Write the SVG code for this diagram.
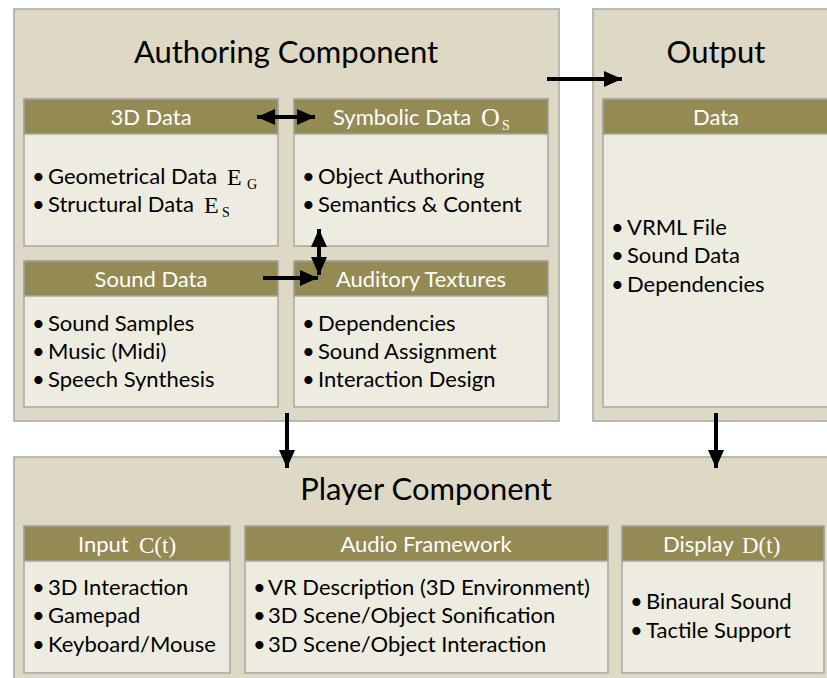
<svg xmlns="http://www.w3.org/2000/svg" width="827" height="678" viewBox="0 0 827 678">
<style>
.outer{fill:#ddd9c4;stroke:#a6a6a6;stroke-width:1.5}
.hdr{fill:#948a54;stroke:#a6a6a6;stroke-width:1.5}
.body{fill:#eeece1;stroke:#a6a6a6;stroke-width:1.5}
.title{font-family:Lato,"Liberation Sans",sans-serif;font-size:31px;fill:#000;text-anchor:middle}
.ht{font-family:Lato,"Liberation Sans",sans-serif;font-size:22px;fill:#fff;text-anchor:middle}
.hl{font-family:Lato,"Liberation Sans",sans-serif;font-size:22px;fill:#fff}
.bt{font-family:Lato,"Liberation Sans",sans-serif;font-size:22px;fill:#000}
.m{font-family:"Liberation Serif",serif}
.conn line{stroke:#000;stroke-width:4}
</style>
<defs>
<marker id="ah" markerUnits="userSpaceOnUse" markerWidth="20" markerHeight="18" refX="18" refY="8" orient="auto-start-reverse">
<path d="M0,0 L18,8 L0,16 z" fill="#000"/>
</marker>
</defs>
<rect width="827" height="678" fill="#fff"/>

<g id="authoring">
<rect class="outer" x="14" y="9" width="545" height="412"/>
<text class="title" x="286" y="63">Authoring Component</text>
</g>
<g id="output">
<rect class="outer" x="593" y="9" width="250" height="412"/>
<text class="title" x="716" y="63">Output</text>
</g>
<g id="player">
<rect class="outer" x="14" y="457" width="830" height="240"/>
<text class="title" x="426" y="500">Player Component</text>
</g>

<g id="data3d">
<rect class="body" x="24" y="99" width="254" height="147"/>
<rect class="hdr" x="24" y="99" width="254" height="35"/>
<text class="ht" x="151" y="125">3D Data</text>
<text class="bt" y="184"><tspan x="32">•</tspan><tspan x="48">Geometrical Data</tspan></text>
<text class="m" x="227" y="185" font-size="24">E</text>
<text class="m" x="247" y="189" font-size="14">G</text>
<text class="bt" y="212"><tspan x="32">•</tspan><tspan x="48">Structural Data</tspan></text>
<text class="m" x="204" y="213" font-size="24">E</text>
<text class="m" x="222" y="217" font-size="14">S</text>
</g>
<g id="symbolic">
<rect class="body" x="294" y="99" width="254" height="147"/>
<rect class="hdr" x="294" y="99" width="254" height="35"/>
<text class="hl" x="333" y="125">Symbolic Data</text>
<text class="m" x="481" y="126" font-size="26" fill="#fff">O</text>
<text class="m" x="502" y="130" font-size="14" fill="#fff">S</text>
<text class="bt" y="184"><tspan x="302">•</tspan><tspan x="318">Object Authoring</tspan></text>
<text class="bt" y="212"><tspan x="302">•</tspan><tspan x="318">Semantics &amp; Content</tspan></text>
</g>
<g id="sound">
<rect class="body" x="24" y="261" width="254" height="146"/>
<rect class="hdr" x="24" y="261" width="254" height="35"/>
<text class="ht" x="151" y="287">Sound Data</text>
<text class="bt" y="331"><tspan x="32">•</tspan><tspan x="48">Sound Samples</tspan></text>
<text class="bt" y="359"><tspan x="32">•</tspan><tspan x="48">Music (Midi)</tspan></text>
<text class="bt" y="387"><tspan x="32">•</tspan><tspan x="48">Speech Synthesis</tspan></text>
</g>
<g id="auditory">
<rect class="body" x="294" y="261" width="254" height="146"/>
<rect class="hdr" x="294" y="261" width="254" height="35"/>
<text class="ht" x="421" y="287">Auditory Textures</text>
<text class="bt" y="331"><tspan x="302">•</tspan><tspan x="318">Dependencies</tspan></text>
<text class="bt" y="359"><tspan x="302">•</tspan><tspan x="318">Sound Assignment</tspan></text>
<text class="bt" y="387"><tspan x="302">•</tspan><tspan x="318">Interaction Design</tspan></text>
</g>
<g id="outdata">
<rect class="body" x="603" y="99" width="240" height="308"/>
<rect class="hdr" x="603" y="99" width="240" height="35"/>
<text class="ht" x="716" y="125">Data</text>
<text class="bt" y="235"><tspan x="611">•</tspan><tspan x="627">VRML File</tspan></text>
<text class="bt" y="263"><tspan x="611">•</tspan><tspan x="627">Sound Data</tspan></text>
<text class="bt" y="292"><tspan x="611">•</tspan><tspan x="627">Dependencies</tspan></text>
</g>
<g id="input">
<rect class="body" x="24" y="526" width="206" height="147"/>
<rect class="hdr" x="24" y="526" width="206" height="35"/>
<text class="hl" x="78" y="552">Input</text>
<text class="m" x="139" y="553" font-size="23" fill="#fff">C(t)</text>
<text class="bt" y="595"><tspan x="32">•</tspan><tspan x="48">3D Interaction</tspan></text>
<text class="bt" y="623"><tspan x="32">•</tspan><tspan x="48">Gamepad</tspan></text>
<text class="bt" y="652"><tspan x="32">•</tspan><tspan x="48">Keyboard/Mouse</tspan></text>
</g>
<g id="audio">
<rect class="body" x="245" y="526" width="363" height="147"/>
<rect class="hdr" x="245" y="526" width="363" height="35"/>
<text class="ht" x="426" y="552">Audio Framework</text>
<text class="bt" y="595"><tspan x="253">•</tspan><tspan x="268">VR Description (3D Environment)</tspan></text>
<text class="bt" y="623"><tspan x="253">•</tspan><tspan x="268">3D Scene/Object Sonification</tspan></text>
<text class="bt" y="652"><tspan x="253">•</tspan><tspan x="268">3D Scene/Object Interaction</tspan></text>
</g>
<g id="display">
<rect class="body" x="622" y="526" width="202" height="147"/>
<rect class="hdr" x="622" y="526" width="202" height="35"/>
<text class="hl" x="663" y="552">Display</text>
<text class="m" x="742" y="553" font-size="23" fill="#fff">D(t)</text>
<text class="bt" y="609"><tspan x="630">•</tspan><tspan x="646">Binaural Sound</tspan></text>
<text class="bt" y="638"><tspan x="630">•</tspan><tspan x="646">Tactile Support</tspan></text>
</g>

<g id="connectors" class="conn">
<line x1="257" y1="117" x2="315" y2="117" marker-start="url(#ah)" marker-end="url(#ah)"/>
<line x1="319" y1="229" x2="319" y2="275" marker-start="url(#ah)" marker-end="url(#ah)"/>
<line x1="263" y1="278" x2="318" y2="278" marker-end="url(#ah)"/>
<line x1="547" y1="79" x2="622" y2="79" marker-end="url(#ah)"/>
<line x1="287" y1="413" x2="287" y2="468" marker-end="url(#ah)"/>
<line x1="716" y1="413" x2="716" y2="468" marker-end="url(#ah)"/>
</g>
</svg>
